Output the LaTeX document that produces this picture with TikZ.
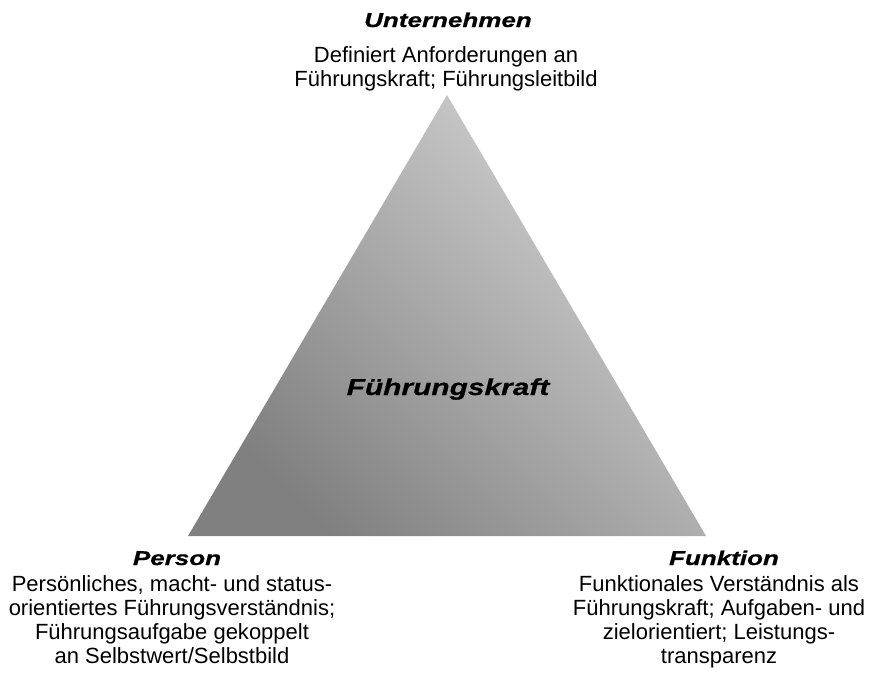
\documentclass[tikz,border=0pt]{standalone}
\usepackage{fontspec}
\setmainfont{Liberation Sans}
\newfontfamily\headfont[FakeStretch=1.3, FakeBold=0.6]{Liberation Sans}
\usetikzlibrary{positioning}

\begin{document}
\begin{tikzpicture}[
x=1pt, y=-1pt,
corner/.style={
font=\headfont\bfseries\itshape\fontsize{20}{22}\selectfont,
inner sep=0pt,
anchor=base
},
desc/.style={
font=\fontsize{22}{24}\selectfont,
align=center,
inner sep=0pt,
anchor=base
},
centre/.style={
font=\headfont\bfseries\itshape\fontsize{23}{26}\selectfont,
inner sep=0pt,
anchor=base
}
]
\useasboundingbox (0,0) rectangle (874,673);

% Triangle
\coordinate (top) at (447,95);
\coordinate (left) at (188,536);
\coordinate (right) at (706,536);
\shade[bottom color=black!50, top color=black!17, shading angle=-45]
(top) -- (left) -- (right) -- cycle;

% Nodes (base = last line)
\node[centre] (fkraft) at (448,395) {Führungskraft};

\node[corner] (unternehmen) at (448,27) {Unternehmen};
\node[desc] (unternehmenText) at (446,86)
{Definiert Anforderungen an\\Führungskraft; Führungsleitbild};

\node[corner] (person) at (177,565) {Person};
\node[desc] (personText) at (172,663)
{Persönliches, macht- und status-\\orientiertes Führungsverständnis;\\Führungsaufgabe gekoppelt\\an Selbstwert/Selbstbild};

\node[corner] (funktion) at (724,565) {Funktion};
\node[desc] (funktionText) at (719,663)
{Funktionales Verständnis als\\Führungskraft; Aufgaben- und\\zielorientiert; Leistungs-\\transparenz};

\end{tikzpicture}
\end{document}
